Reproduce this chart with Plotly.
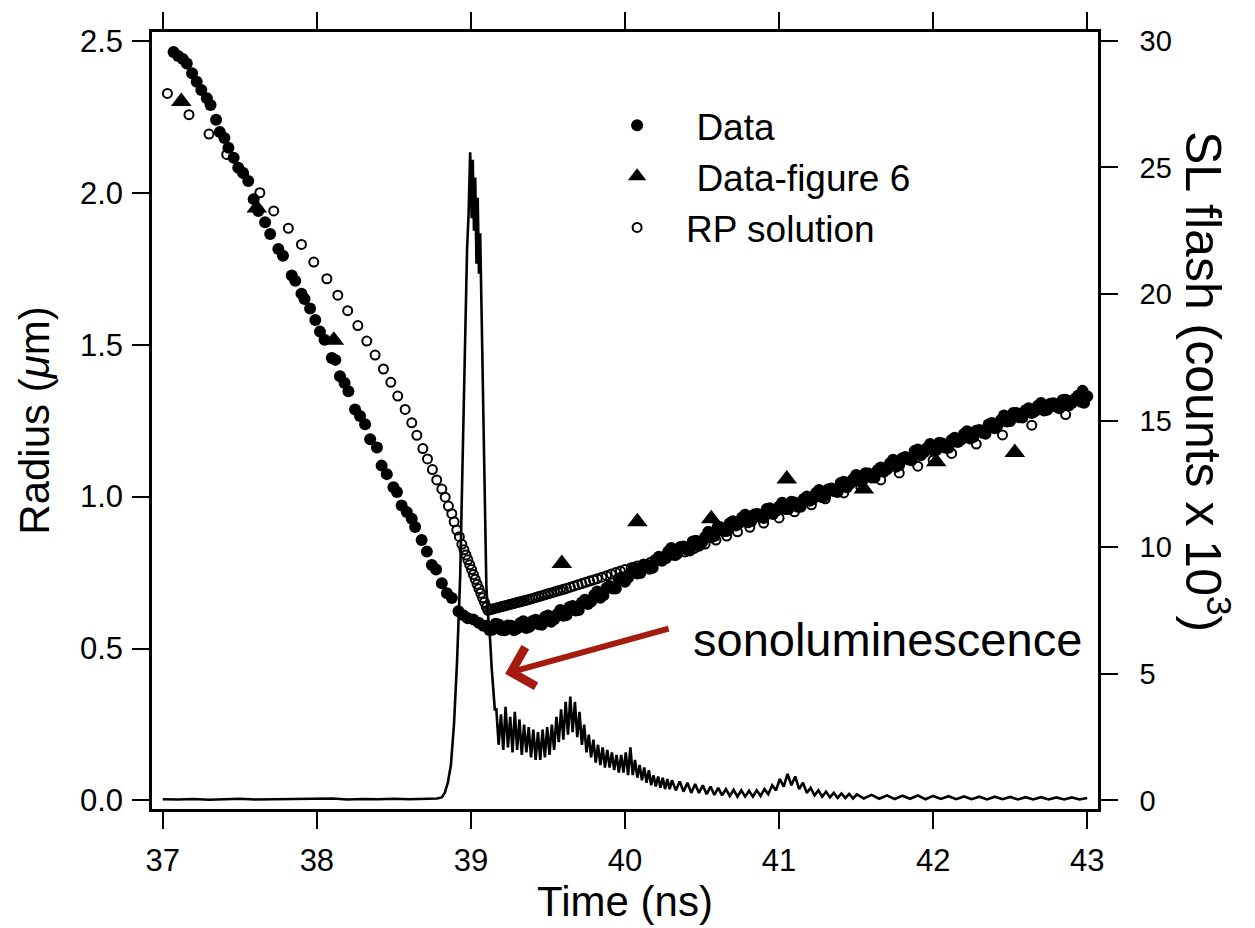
import plotly.graph_objects as go

# ---------------- SL flash trace (right axis, counts x 10^3) ----------------
flash_time = [
    37.00, 37.10, 37.20, 37.30, 37.40, 37.50, 37.60, 37.70, 37.80, 37.90,
    38.00, 38.10, 38.20, 38.30, 38.40, 38.50, 38.60, 38.70, 38.78,
    38.81, 38.83, 38.85, 38.87, 38.89, 38.91, 38.93, 38.945, 38.955, 38.965,
    38.975, 38.985, 38.995, 39.005, 39.012, 39.02, 39.028, 39.036, 39.044, 39.052,
    39.06, 39.07, 39.08, 39.09, 39.10, 39.11, 39.125, 39.135, 39.145, 39.155,
    39.165, 39.180, 39.195, 39.210, 39.225, 39.240, 39.255, 39.270, 39.285, 39.300,
    39.315, 39.330, 39.345, 39.360, 39.375, 39.390, 39.405, 39.420, 39.435, 39.450,
    39.465, 39.480, 39.495, 39.510, 39.525, 39.540, 39.555, 39.570, 39.585, 39.600,
    39.615, 39.630, 39.645, 39.660, 39.675, 39.690, 39.705, 39.720, 39.735, 39.750,
    39.765, 39.780, 39.795, 39.810, 39.825, 39.840, 39.855, 39.870, 39.885, 39.900,
    39.915, 39.930, 39.945, 39.960, 39.975, 39.990, 40.005, 40.020, 40.035, 40.050,
    40.065, 40.080, 40.095, 40.110, 40.125, 40.140, 40.155, 40.170, 40.185, 40.200,
    40.215, 40.230, 40.245, 40.260, 40.275, 40.290, 40.305,
    40.330, 40.355, 40.380, 40.405, 40.430, 40.455, 40.480, 40.505, 40.530, 40.555,
    40.580, 40.605, 40.630, 40.655, 40.680, 40.705, 40.730, 40.755, 40.780, 40.805,
    40.830, 40.855, 40.880, 40.905, 40.930, 40.955, 40.980, 41.005, 41.030, 41.055,
    41.080, 41.105, 41.130, 41.155, 41.180, 41.205, 41.230, 41.255, 41.280, 41.305,
    41.330, 41.355, 41.380, 41.405, 41.430, 41.455, 41.480, 41.505,
    41.55, 41.60, 41.65, 41.70, 41.75, 41.80, 41.85, 41.90, 41.95, 42.00,
    42.05, 42.10, 42.15, 42.20, 42.25, 42.30, 42.35, 42.40, 42.45, 42.50,
    42.55, 42.60, 42.65, 42.70, 42.75, 42.80, 42.85, 42.90, 42.95, 43.00,
]
flash_counts = [
    0.05, 0.04, 0.06, 0.03, 0.05, 0.07, 0.04, 0.05, 0.03, 0.06,
    0.05, 0.08, 0.04, 0.06, 0.05, 0.07, 0.05, 0.06, 0.08,
    0.12, 0.3, 0.7, 1.4, 3.0, 5.5, 8.8, 13.5, 16.5, 19.5,
    21.8, 23.2, 25.6, 23.0, 25.3, 22.5, 24.6, 21.2, 23.8, 20.8,
    22.4, 19.0, 15.5, 11.5, 8.5, 7.4, 6.3, 5.2, 4.4, 3.6,
    3.6, 2.2, 3.4, 2.0, 3.7, 2.1, 3.3, 1.9, 3.5, 2.0,
    3.2, 1.8, 3.0, 1.9, 2.9, 1.7, 2.8, 1.6, 2.7, 1.6,
    2.8, 1.7, 2.9, 1.8, 3.0, 2.0, 3.3, 2.3, 3.6, 2.4,
    3.9, 2.6, 4.1, 2.7, 3.9, 2.5, 3.5, 2.2, 3.0, 1.9,
    2.6, 1.7, 2.4, 1.5, 2.2, 1.4, 2.1, 1.3, 2.0, 1.3,
    1.9, 1.2, 1.8, 1.1, 1.8, 1.1, 1.9, 1.0, 2.1, 1.0,
    1.6, 0.9, 1.4, 0.8, 1.3, 0.7, 1.2, 0.6, 1.0, 0.55,
    0.95, 0.5, 0.9, 0.45, 0.85, 0.45, 0.8,
    0.40, 0.75, 0.35, 0.70, 0.30, 0.65, 0.30, 0.60, 0.25, 0.55,
    0.22, 0.50, 0.20, 0.45, 0.18, 0.42, 0.15, 0.40, 0.15, 0.38,
    0.15, 0.40, 0.18, 0.45, 0.25, 0.60, 0.40, 0.85, 0.55, 1.05,
    0.60, 0.95, 0.45, 0.70, 0.30, 0.50, 0.20, 0.40, 0.15, 0.35,
    0.12, 0.30, 0.10, 0.28, 0.10, 0.26, 0.08, 0.24,
    0.08, 0.22, 0.07, 0.20, 0.06, 0.19, 0.07, 0.20, 0.05, 0.18,
    0.06, 0.17, 0.05, 0.16, 0.05, 0.15, 0.04, 0.15, 0.05, 0.14,
    0.04, 0.13, 0.04, 0.13, 0.04, 0.12, 0.04, 0.12, 0.04, 0.10,
]

# ---------------- Data (filled circles, radius in um) ----------------
data_time = [
    # collapse
    37.07, 37.10, 37.13, 37.156, 37.19, 37.22, 37.25, 37.286, 37.31, 37.346,
    37.37, 37.40, 37.426, 37.46, 37.49, 37.52, 37.555, 37.59, 37.62, 37.664,
    37.697, 37.75, 37.78, 37.837, 37.86, 37.90, 37.92, 37.956, 37.99, 38.02,
    38.05, 38.097, 38.12, 38.15, 38.18, 38.205, 38.248, 38.28, 38.313, 38.346,
    38.39, 38.42, 38.454, 38.497, 38.52, 38.55, 38.584, 38.616, 38.638, 38.68,
    38.714, 38.746, 38.774, 38.811, 38.844, 38.876, 38.919, 38.95, 38.98, 39.015,
    39.05, 39.08,
    # re-expansion
    39.10, 39.14, 39.18, 39.22, 39.26, 39.30, 39.34, 39.38, 39.42, 39.46,
    39.50, 39.54, 39.58, 39.62, 39.66, 39.70, 39.74, 39.78, 39.82, 39.86,
    39.90, 39.94, 39.98, 40.02, 40.06, 40.10, 40.14, 40.18, 40.22, 40.26,
    40.30, 40.34, 40.38, 40.42, 40.46, 40.50, 40.54, 40.58, 40.62, 40.66,
    40.70, 40.74, 40.78, 40.82, 40.86, 40.90, 40.94, 40.98, 41.02, 41.06,
    41.10, 41.14, 41.18, 41.22, 41.26, 41.30, 41.34, 41.38, 41.42, 41.46,
    41.50, 41.54, 41.58, 41.62, 41.66, 41.70, 41.74, 41.78, 41.82, 41.86,
    41.90, 41.94, 41.98, 42.02, 42.06, 42.10, 42.14, 42.18, 42.22, 42.26,
    42.30, 42.34, 42.38, 42.42, 42.46, 42.50, 42.54, 42.58, 42.62, 42.66,
    42.70, 42.74, 42.78, 42.82, 42.86, 42.90, 42.94, 42.98, 42.97, 43.00,
    39.12, 39.16, 39.20, 39.24, 39.28, 39.32, 39.36, 39.40, 39.44, 39.48,
    39.52, 39.56, 39.60, 39.64, 39.68, 39.72, 39.76, 39.80, 39.84, 39.88,
    39.92, 39.96, 40.00, 40.04, 40.08, 40.12, 40.16, 40.20, 40.24, 40.28,
    40.32, 40.36, 40.40, 40.44, 40.48, 40.52, 40.56, 40.60, 40.64, 40.68,
    40.72, 40.76, 40.80, 40.84, 40.88, 40.92, 40.96, 41.00, 41.04, 41.08,
    41.12, 41.16, 41.20, 41.24, 41.28, 41.32, 41.36, 41.40, 41.44, 41.48,
    41.52, 41.56, 41.60, 41.64, 41.68, 41.72, 41.76, 41.80, 41.84, 41.88,
    41.92, 41.96, 42.00, 42.04, 42.08, 42.12, 42.16, 42.20, 42.24, 42.28,
    42.32, 42.36, 42.40, 42.44, 42.48, 42.52, 42.56, 42.60, 42.64, 42.68,
    42.72, 42.76, 42.80, 42.84, 42.88, 42.92, 42.96,
]
data_radius = [
    2.463, 2.450, 2.440, 2.425, 2.393, 2.365, 2.338, 2.311, 2.289, 2.240,
    2.200, 2.180, 2.148, 2.115, 2.082, 2.066, 2.039, 1.979, 1.940, 1.903,
    1.864, 1.815, 1.793, 1.728, 1.710, 1.668, 1.650, 1.619, 1.581, 1.543,
    1.516, 1.456, 1.450, 1.396, 1.374, 1.347, 1.287, 1.265, 1.238, 1.189,
    1.162, 1.102, 1.074, 1.031, 1.015, 0.971, 0.949, 0.927, 0.900, 0.857,
    0.819, 0.775, 0.760, 0.715, 0.682, 0.666, 0.623, 0.610, 0.600, 0.596,
    0.585, 0.575,
    0.575, 0.562, 0.579, 0.560, 0.575, 0.566, 0.590, 0.572, 0.595, 0.578,
    0.609, 0.596, 0.627, 0.610, 0.640, 0.627, 0.661, 0.655, 0.688, 0.675,
    0.706, 0.698, 0.735, 0.733, 0.766, 0.749, 0.776, 0.766, 0.802, 0.798,
    0.831, 0.813, 0.836, 0.823, 0.855, 0.849, 0.884, 0.870, 0.899, 0.887,
    0.919, 0.912, 0.940, 0.920, 0.943, 0.930, 0.962, 0.953, 0.980, 0.959,
    0.981, 0.967, 1.000, 0.993, 1.022, 1.003, 1.027, 1.015, 1.049, 1.042,
    1.071, 1.052, 1.076, 1.063, 1.096, 1.090, 1.121, 1.104, 1.130, 1.120,
    1.155, 1.146, 1.173, 1.153, 1.175, 1.161, 1.194, 1.187, 1.215, 1.196,
    1.219, 1.207, 1.242, 1.236, 1.267, 1.249, 1.275, 1.260, 1.291, 1.281,
    1.308, 1.286, 1.307, 1.291, 1.319, 1.308, 1.332, 1.309, 1.348, 1.330,
    0.561, 0.582, 0.561, 0.576, 0.560, 0.584, 0.568, 0.591, 0.580, 0.604,
    0.588, 0.613, 0.608, 0.637, 0.625, 0.652, 0.647, 0.676, 0.667, 0.699,
    0.698, 0.729, 0.720, 0.750, 0.747, 0.775, 0.763, 0.792, 0.789, 0.819,
    0.808, 0.834, 0.826, 0.852, 0.838, 0.867, 0.866, 0.898, 0.886, 0.912,
    0.905, 0.931, 0.916, 0.941, 0.933, 0.959, 0.943, 0.967, 0.959, 0.983,
    0.967, 0.992, 0.986, 1.012, 0.998, 1.024, 1.018, 1.045, 1.031, 1.057,
    1.051, 1.077, 1.063, 1.088, 1.082, 1.110, 1.098, 1.126, 1.122, 1.150,
    1.136, 1.160, 1.152, 1.177, 1.161, 1.186, 1.180, 1.206, 1.191, 1.217,
    1.210, 1.237, 1.225, 1.252, 1.247, 1.275, 1.261, 1.284, 1.275, 1.299,
    1.283, 1.306, 1.296, 1.318, 1.300, 1.321, 1.312,
]

# ---------------- Data-figure 6 (triangles) ----------------
fig6_time = [37.12, 37.61, 38.11, 39.59, 40.08, 40.56, 41.05, 41.55, 42.02, 42.53]
fig6_radius = [2.30, 1.95, 1.515, 0.78, 0.917, 0.927, 1.058, 1.025, 1.115, 1.145]

# ---------------- RP solution (open circles) ----------------
rp_time = [
    37.03, 37.17, 37.30, 37.415, 37.525, 37.63, 37.72, 37.815, 37.90, 37.98,
    38.065, 38.136, 38.20, 38.266, 38.324, 38.378, 38.432, 38.48, 38.525, 38.573,
    38.616, 38.649, 38.688, 38.718, 38.75, 38.778, 38.811, 38.833, 38.854, 38.876,
    38.891, 38.908, 38.925, 38.941, 38.955, 38.968, 38.98, 38.992, 39.004, 39.016,
    39.028, 39.04, 39.052, 39.064, 39.076, 39.088, 39.10, 39.11, 39.125, 39.14,
    39.155, 39.17, 39.185, 39.20, 39.215, 39.23, 39.245, 39.26, 39.275, 39.29,
    39.305, 39.32, 39.335, 39.35, 39.365, 39.38, 39.40, 39.42, 39.44, 39.46,
    39.48, 39.50, 39.52, 39.54, 39.56, 39.58, 39.60, 39.62, 39.645, 39.67,
    39.695, 39.72, 39.745, 39.77, 39.795, 39.82, 39.85, 39.88, 39.91, 39.94,
    39.97, 40.00, 40.04, 40.08, 40.12, 40.17, 40.22, 40.27, 40.33, 40.39,
    40.45, 40.52, 40.59, 40.66, 40.73, 40.81, 40.90, 41.00, 41.10, 41.21,
    41.30, 41.42, 41.53, 41.66, 41.78, 41.90, 42.00, 42.12, 42.28, 42.45,
    42.64, 42.86,
]
rp_radius = [
    2.327, 2.257, 2.193, 2.126, 2.063, 2.000, 1.940, 1.883, 1.830, 1.772,
    1.717, 1.663, 1.612, 1.563, 1.512, 1.466, 1.420, 1.376, 1.331, 1.287,
    1.243, 1.202, 1.158, 1.124, 1.089, 1.055, 1.025, 0.998, 0.969, 0.944,
    0.917, 0.890, 0.868, 0.843, 0.825, 0.808, 0.792, 0.776, 0.760, 0.744,
    0.728, 0.712, 0.697, 0.682, 0.667, 0.652, 0.637, 0.626, 0.628, 0.630,
    0.632, 0.634, 0.636, 0.638, 0.640, 0.642, 0.644, 0.646, 0.648, 0.650,
    0.652, 0.654, 0.656, 0.658, 0.660, 0.662, 0.665, 0.668, 0.671, 0.674,
    0.677, 0.680, 0.683, 0.686, 0.689, 0.692, 0.695, 0.698, 0.702, 0.706,
    0.710, 0.714, 0.718, 0.722, 0.726, 0.730, 0.735, 0.740, 0.745, 0.750,
    0.755, 0.760, 0.766, 0.772, 0.778, 0.785, 0.791, 0.797, 0.807, 0.818,
    0.830, 0.844, 0.857, 0.870, 0.884, 0.899, 0.913, 0.930, 0.950, 0.973,
    0.993, 1.012, 1.032, 1.055, 1.078, 1.100, 1.120, 1.142, 1.173, 1.203,
    1.235, 1.270,
]

# ---------------- axes ticks ----------------
time_ticks = [37, 38, 39, 40, 41, 42, 43]
radius_ticks = [0.0, 0.5, 1.0, 1.5, 2.0, 2.5]
radius_ticktext = ["0.0", "0.5", "1.0", "1.5", "2.0", "2.5"]
flash_ticks = [0, 5, 10, 15, 20, 25, 30]

FONT = "Liberation Sans, Arial, Helvetica, sans-serif"

fig = go.Figure()
fig.add_trace(go.Scatter(
    x=flash_time, y=flash_counts, yaxis="y2", mode="lines",
    line=dict(color="black", width=2.6), name="SL flash", showlegend=False,
))
fig.add_trace(go.Scatter(
    x=data_time, y=data_radius, mode="markers", name="\u00a0Data",
    marker=dict(symbol="circle", size=12, color="black", line=dict(width=0)),
))
fig.add_trace(go.Scatter(
    x=fig6_time, y=fig6_radius, mode="markers", name="\u00a0Data-figure 6",
    marker=dict(symbol="triangle-up", size=18, color="black", line=dict(width=0)),
))
fig.add_trace(go.Scatter(
    x=rp_time, y=rp_radius, mode="markers", name="RP solution",
    marker=dict(symbol="circle-open", size=9, color="black", line=dict(width=2, color="black")),
))

axis_common = dict(
    showline=True, linewidth=2.5, linecolor="black",
    ticks="outside", ticklen=17, tickwidth=2, tickcolor="black",
    showgrid=False, zeroline=False,
)

fig.update_layout(
    width=1255, height=928,
    margin=dict(l=152, r=157, t=27, b=119),
    paper_bgcolor="white", plot_bgcolor="white",
    font=dict(family=FONT, color="black"),
    xaxis=dict(
        range=[36.93, 43.07], tickvals=time_ticks, mirror="ticks",
        tickfont=dict(size=31), ticklabelstandoff=5,
        title=dict(text="Time (ns)", font=dict(size=42), standoff=2),
        **axis_common,
    ),
    yaxis=dict(
        range=[-0.028, 2.529], tickvals=radius_ticks, ticktext=radius_ticktext,
        tickfont=dict(size=31), ticklabelstandoff=3,
        title=dict(text="Radius (<i>\u03bc</i>m)", font=dict(size=42), standoff=18),
        **axis_common,
    ),
    yaxis2=dict(
        overlaying="y", side="right",
        range=[-0.336, 30.35], tickvals=flash_ticks,
        tickfont=dict(size=29), ticklabelstandoff=16,
        **axis_common,
    ),
    legend=dict(
        x=0.461, y=0.9194, xanchor="left", yanchor="top",
        font=dict(size=37), bgcolor="rgba(0,0,0,0)", borderwidth=0,
        itemwidth=88, tracegroupgap=0,
    ),
    annotations=[
        dict(
            text="SL flash (counts x 10<sup>3</sup>)", textangle=90,
            xref="paper", yref="paper", x=1.116, y=0.55,
            xanchor="center", yanchor="middle", showarrow=False,
            font=dict(size=50, family=FONT),
        ),
        dict(
            text="sonoluminescence", xref="x", yref="y",
            x=40.43, y=0.53, xanchor="left", yanchor="middle",
            showarrow=False, font=dict(size=47, family="Arial, Liberation Sans, sans-serif"),
        ),
        dict(
            text="", xref="x", yref="y", x=39.222, y=0.417,
            axref="x", ayref="y", ax=40.293, ay=0.567,
            showarrow=True, arrowhead=4, arrowsize=1.3, arrowwidth=6,
            arrowcolor="#A61B10", standoff=0, startstandoff=0,
        ),
    ],
)

fig.write_html("out.html")
